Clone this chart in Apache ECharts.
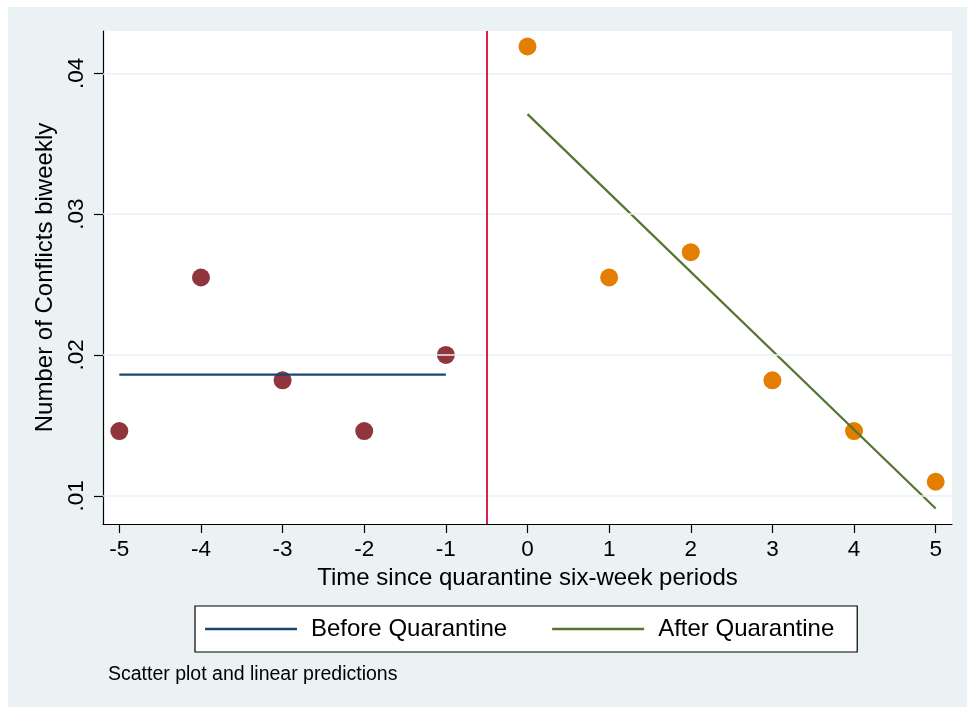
<!DOCTYPE html>
<html>
<head>
<meta charset="utf-8">
<title>Conflicts before and after quarantine</title>
<script src="https://cdn.jsdelivr.net/npm/echarts@6/dist/echarts.min.js"></script>
<style>
  html, body { margin: 0; padding: 0; background: #ffffff; }
  #backdrop { position: absolute; left: 8px; top: 7px; width: 959px; height: 700px; background: #eaf2f3; }
  #chart { position: absolute; left: 0; top: 0; width: 967px; height: 707px; }
</style>
</head>
<body>
<div id="backdrop"></div>
<div id="chart"></div>
<script>
// Six-week periods relative to the start of quarantine
const periodsBefore = [-5, -4, -3, -2, -1];
const periodsAfter = [0, 1, 2, 3, 4, 5];

// Biweekly number of conflicts in each period
const conflictsBefore = [0.0146, 0.0255, 0.0182, 0.0146, 0.0200];
const conflictsAfter = [0.0419, 0.0255, 0.0273, 0.0182, 0.0146, 0.0110];

// Linear predictions at the ends of each period range
const fitBeforeX = [-5, -1];
const fitBeforeY = [0.0186, 0.0186];
const fitAfterX = [0, 5];
const fitAfterY = [0.0371, 0.0091];

// Axis ticks and the quarantine cut-off
const xTicks = [-5, -4, -3, -2, -1, 0, 1, 2, 3, 4, 5];
const yTicks = [0.01, 0.02, 0.03, 0.04];
const cutoff = -0.5;

const FONT = 'Liberation Sans, Arial, Helvetica, sans-serif';
const pairs = (xs, ys) => xs.map((x, i) => [x, ys[i]]);

const chart = echarts.init(document.getElementById('chart'), null, { renderer: 'canvas' });

chart.setOption({
  backgroundColor: 'transparent',
  textStyle: { fontFamily: FONT, color: '#000' },
  grid: {
    left: 103, top: 31, right: 15, bottom: 183,
    show: true, backgroundColor: '#ffffff', borderWidth: 0
  },
  xAxis: {
    type: 'value', min: -5.2, max: 5.2,
    name: 'Time since quarantine six-week periods',
    nameLocation: 'middle', nameGap: 42,
    nameTextStyle: { fontSize: 24, color: '#000', fontFamily: FONT },
    axisLine: { show: true, onZero: false, lineStyle: { color: '#000', width: 1.2 } },
    axisTick: { show: true, length: 9, customValues: xTicks, lineStyle: { color: '#000', width: 1.2 } },
    axisLabel: { customValues: xTicks, fontSize: 22.5, color: '#000', margin: 14, fontFamily: FONT },
    splitLine: { show: false }
  },
  yAxis: {
    type: 'value', min: 0.008, max: 0.043,
    name: 'Number of Conflicts biweekly',
    nameLocation: 'middle', nameGap: 40,
    nameTextStyle: { fontSize: 24, color: '#000', fontFamily: FONT },
    axisLine: { show: true, onZero: false, lineStyle: { color: '#000', width: 1.2 } },
    axisTick: { show: true, length: 9, customValues: yTicks, lineStyle: { color: '#000', width: 1.2 } },
    axisLabel: {
      customValues: yTicks, rotate: 90, fontSize: 22.5, color: '#000', margin: 15, fontFamily: FONT,
      formatter: v => v.toFixed(2).replace(/^0/, '')
    },
    splitLine: { show: false }
  },
  legend: {
    data: [
      { name: 'Before Quarantine', icon: 'rect' },
      { name: 'After Quarantine', icon: 'rect' }
    ],
    left: 195, top: 606,
    orient: 'horizontal',
    backgroundColor: '#ffffff',
    borderColor: '#000', borderWidth: 1.2,
    padding: [11, 23, 11, 10],
    itemWidth: 92, itemHeight: 2.5, itemGap: 45,
    textStyle: { fontSize: 24, color: '#000', fontFamily: FONT, padding: [0, 0, 0, 9] },
    selectedMode: false
  },
  graphic: [{
    type: 'text', left: 108, top: 665,
    style: { text: 'Scatter plot and linear predictions', font: '19.5px ' + FONT, fill: '#000' }
  }],
  series: [
    {
      // horizontal reference lines at the y ticks
      name: 'gridlines', type: 'line', data: [], silent: true, z: 1,
      markLine: {
        silent: true, symbol: 'none', label: { show: false },
        lineStyle: { color: '#eaf2f3', width: 1.5, type: 'solid' },
        data: yTicks.map(v => ({ yAxis: v }))
      }
    },
    {
      name: 'cutoff', type: 'line', data: [], silent: true, z: 2,
      markLine: {
        silent: true, symbol: 'none', label: { show: false },
        lineStyle: { color: '#dc1f4d', width: 2, type: 'solid' },
        data: [{ xAxis: cutoff }]
      }
    },
    {
      name: 'Conflicts before', type: 'scatter', z: 3,
      data: pairs(periodsBefore, conflictsBefore),
      symbol: 'circle', symbolSize: 18,
      itemStyle: { color: '#90353b', opacity: 1 }
    },
    {
      name: 'Conflicts after', type: 'scatter', z: 3,
      data: pairs(periodsAfter, conflictsAfter),
      symbol: 'circle', symbolSize: 18,
      itemStyle: { color: '#e37e00', opacity: 1 }
    },
    {
      name: 'Before Quarantine', type: 'line', z: 4,
      data: pairs(fitBeforeX, fitBeforeY),
      symbol: 'none', showSymbol: false,
      lineStyle: { color: '#1a476f', width: 2.2 },
      itemStyle: { color: '#1a476f' }
    },
    {
      name: 'After Quarantine', type: 'line', z: 4,
      data: pairs(fitAfterX, fitAfterY),
      symbol: 'none', showSymbol: false,
      lineStyle: { color: '#55752f', width: 2.2 },
      itemStyle: { color: '#55752f' }
    }
  ]
});
</script>
</body>
</html>
